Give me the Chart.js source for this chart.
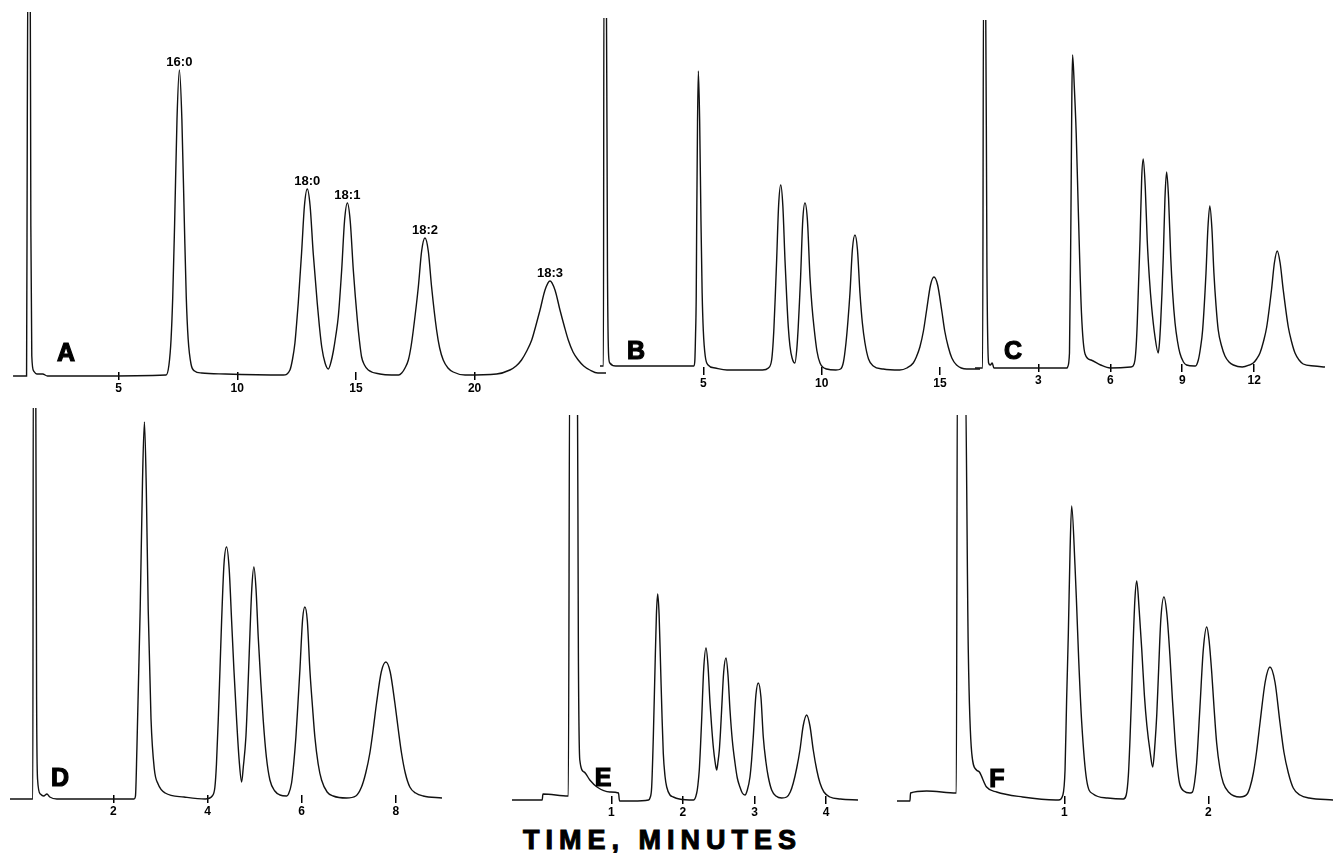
<!DOCTYPE html>
<html>
<head>
<meta charset="utf-8">
<title>Chromatograms A–F</title>
<script src="https://cdn.jsdelivr.net/npm/chart.js@4.4.0/dist/chart.umd.min.js"></script>
<style>
    html, body { margin: 0; padding: 0; background: #fff; }
    #figure { position: relative; width: 1333px; height: 853px; overflow: hidden; background: #fff; }
    #figure canvas { position: absolute; }
    .panel-letter {
        position: absolute;
        font-family: 'Liberation Sans', Arial, sans-serif;
        font-weight: 700;
        font-size: 25px;
        line-height: 1;
        color: #000;
        -webkit-text-stroke: 1.2px #000;
        transform: translate(-50%, -50%);
    }
    .axis-title {
        position: absolute;
        left: 523px;
        top: 827px;
        font-family: 'Liberation Sans', Arial, sans-serif;
        font-weight: 700;
        font-size: 27px;
        line-height: 1;
        letter-spacing: 6px;
        white-space: nowrap;
        color: #000;
        -webkit-text-stroke: 1px #000;
    }
</style>
</head>
<body>
<div id="figure">
    <div class="axis-title">TIME, MINUTES</div>
</div>

<script>
const timesA = [
    0.55, 1.12, 1.15, 1.18, 1.27, 1.30, 1.34, 1.42, 1.55, 1.8, 2.0, 4.0,
    7.0, 7.12, 7.21, 7.28, 7.36, 7.46, 7.56, 7.665, 7.77, 7.85, 7.93, 8.05, 8.2, 8.5, 9.5,
    11.94, 12.22, 12.33, 12.43, 12.5, 12.57, 12.71, 12.83, 12.95, 13.07, 13.2, 13.37, 13.46, 13.56, 13.7, 13.84,
    13.95, 14.05, 14.15, 14.26, 14.4, 14.52, 14.64, 14.76, 14.89, 15.06, 15.15, 15.24, 15.36, 15.52, 16.01, 16.5,
    16.8, 16.93, 17.07, 17.21, 17.32, 17.42, 17.63, 17.77, 17.91, 18.05, 18.19, 18.4, 18.53, 18.68, 18.88, 19.1, 19.6,
    20.93, 21.49, 21.75, 21.98, 22.2, 22.41, 22.58, 22.76, 22.97, 23.18, 23.39, 23.6, 23.78, 23.95, 24.15, 24.37, 24.6, 24.86, 25.2, 25.54
];
const signalA = [
    0, 0, 250, 420, 420, 150, 20, 5, 2, 2, 0, 0,
    1, 11, 37, 79, 153, 257, 306, 257, 153, 79, 37, 12, 5, 3, 2,
    1, 6, 17, 33, 52, 73, 123, 170, 187, 170, 123, 73, 50, 29, 13, 7,
    14, 25, 40, 60, 106, 155, 173, 155, 106, 56, 35, 19, 11, 6, 2, 1,
    1, 3, 8, 16, 29, 46, 89, 125, 138, 125, 89, 46, 28, 16, 8, 4, 1,
    2, 6, 10, 16, 25, 36, 50, 66, 86, 95, 86, 66, 50, 36, 24, 16, 10, 6, 3, 3
];
const ticksA = [5, 10, 15, 20];
const peakNamesA = ['16:0', '18:0', '18:1', '18:2', '18:3'];
const peakTimesA = [7.56, 12.95, 14.64, 17.91, 23.18];
const peakHeightsA = [306, 187, 173, 138, 95];

const timesB = [
    0.63, 0.78, 0.80, 0.90, 0.95, 1.0, 1.05, 1.3, 4.6,
    4.64, 4.67, 4.70, 4.72, 4.755, 4.79, 4.845, 4.9, 4.95, 5.0, 5.08, 5.2, 5.5, 6.0, 7.5,
    7.75, 7.886, 7.94, 7.985, 8.04, 8.098, 8.18, 8.27, 8.36, 8.45, 8.52, 8.59, 8.66, 8.75, 8.87,
    8.95, 9.01, 9.06, 9.11, 9.2, 9.294, 9.4, 9.506, 9.59, 9.675, 9.8, 9.93, 10.21, 10.6,
    10.8, 10.92, 11.027, 11.11, 11.196, 11.3, 11.407, 11.51, 11.618, 11.72, 11.83, 11.98, 12.18, 12.6, 13.3,
    13.6, 13.87, 14.0, 14.15, 14.3, 14.435, 14.6, 14.745, 14.9, 15.07, 15.2, 15.35, 15.5, 15.7, 16.13, 16.69
];
const signalB = [
    5, 5, 400, 400, 100, 15, 8, 5, 5,
    10, 35, 75, 150, 250, 300, 250, 150, 78, 40, 15, 6, 3, 1, 1,
    3, 11, 25, 44, 75, 111, 165, 186, 165, 111, 75, 44, 25, 13, 8,
    22, 44, 68, 94, 150, 168, 150, 94, 65, 44, 20, 8, 2, 1,
    2, 9, 28, 50, 78, 122, 136, 122, 78, 48, 28, 12, 5, 2, 1,
    3, 8, 14, 24, 40, 61, 86, 94, 86, 61, 40, 24, 13, 6, 2, 2
];
const ticksB = [5, 10, 15];

const timesC = [
    0.36, 0.68, 0.72, 0.80, 0.86, 0.93, 1.0, 1.08, 1.15, 4.2,
    4.22, 4.3, 4.36, 4.4, 4.43, 4.5, 4.58, 4.67, 4.8, 4.95, 5.2, 5.6, 6.0, 6.85,
    6.95, 7.03, 7.08, 7.125, 7.18, 7.24, 7.31, 7.375, 7.46, 7.54, 7.63, 7.725, 7.86, 8.0,
    8.05, 8.10, 8.155, 8.21, 8.28, 8.35, 8.43, 8.52, 8.6, 8.70, 8.8, 8.9, 9.05, 9.18, 9.5,
    9.55, 9.67, 9.76, 9.85, 9.99, 10.07, 10.15, 10.235, 10.32, 10.41, 10.5, 10.64, 10.78, 10.95, 11.13, 11.5,
    11.8, 11.96, 12.1, 12.24, 12.38, 12.52, 12.72, 12.84, 12.96, 13.08, 13.21, 13.42, 13.56, 13.7, 13.87, 14.04, 14.5, 14.95
];
const signalC = [
    0, 0, 400, 400, 100, 5, 3, 5, 0, 0,
    1, 15, 150, 275, 313, 282, 235, 156, 55, 14, 8, 3, 0, 1,
    2, 8, 22, 45, 85, 128, 190, 209, 180, 128, 90, 61, 32, 15,
    25, 45, 75, 111, 170, 196, 170, 111, 75, 45, 27, 15, 6, 3, 2,
    2, 8, 20, 38, 95, 140, 162, 140, 95, 62, 38, 22, 12, 6, 3, 1,
    3, 5, 9, 15, 26, 41, 78, 105, 117, 105, 78, 41, 26, 15, 8, 4, 2, 1
];
const ticksC = [3, 6, 9, 12];

const timesD = [
    -0.2, 0.29, 0.30, 0.35, 0.37, 0.39, 0.45, 0.52, 0.59, 0.65, 0.8, 2.44,
    2.47, 2.5, 2.57, 2.62, 2.66, 2.7, 2.74, 2.8, 2.87, 2.95, 3.1, 3.5, 3.95,
    4.1, 4.157, 4.19, 4.228, 4.265, 4.30, 4.35, 4.405, 4.46, 4.511, 4.56, 4.618, 4.67, 4.724,
    4.76, 4.815, 4.85, 4.886, 4.94, 4.985, 5.03, 5.077, 5.13, 5.183, 5.25, 5.325, 5.43, 5.537, 5.68,
    5.72, 5.785, 5.83, 5.877, 5.92, 5.962, 6.02, 6.068, 6.12, 6.174, 6.23, 6.28, 6.35, 6.422, 6.54, 6.669, 6.95,
    7.15, 7.27, 7.36, 7.448, 7.52, 7.59, 7.69, 7.788, 7.88, 7.979, 8.05, 8.12, 8.2, 8.297, 8.42, 8.58, 8.98
];
const signalD = [
    0, 0, 450, 450, 100, 20, 5, 3, 5, 2, 0, 0,
    3, 50, 190, 320, 377, 310, 190, 80, 30, 15, 6, 2, 0,
    3, 12, 35, 79, 130, 179, 235, 252, 230, 179, 130, 79, 40, 17,
    32, 62, 100, 146, 210, 232, 210, 162, 118, 79, 42, 19, 8, 4, 3,
    5, 16, 35, 62, 95, 129, 180, 192, 178, 129, 92, 62, 35, 19, 7, 3, 1,
    3, 12, 26, 46, 70, 96, 127, 137, 127, 96, 70, 46, 26, 12, 6, 3, 1
];
const ticksD = [2, 4, 6, 8];

const timesE = [
    -0.39, 0.035, 0.045, 0.40, 0.42, 0.525, 0.54, 0.56, 0.62, 0.7, 0.8, 0.98, 1.10, 1.115, 1.3,
    1.52, 1.54, 1.564, 1.587, 1.61, 1.63, 1.648, 1.668, 1.69, 1.708, 1.726, 1.75, 1.774, 1.82, 1.866, 1.95, 2.15,
    2.193, 2.21, 2.229, 2.245, 2.262, 2.29, 2.323, 2.35, 2.379, 2.4, 2.425, 2.45, 2.472,
    2.49, 2.509, 2.525, 2.541, 2.57, 2.602, 2.63, 2.658, 2.69, 2.728, 2.76, 2.797, 2.83, 2.867,
    2.9, 2.937, 2.96, 2.983, 3.02, 3.053, 3.09, 3.123, 3.16, 3.193, 3.24, 3.3, 3.38,
    3.45, 3.5, 3.542, 3.59, 3.635, 3.68, 3.729, 3.775, 3.821, 3.87, 3.915, 3.97, 4.054, 4.2, 4.45
];
const signalE = [
    0, 0, 6, 4, 450, 450, 150, 40, 28, 20, 13, 8, 7, -1, -1,
    0, 2, 13, 63, 130, 185, 206, 185, 130, 85, 47, 24, 13, 5, 3, 1, 0,
    7, 15, 30, 52, 80, 130, 152, 135, 97, 75, 53, 38, 30,
    38, 50, 68, 90, 128, 142, 125, 90, 60, 37, 22, 13, 7, 5,
    10, 23, 40, 63, 105, 117, 103, 63, 38, 23, 10, 4, 2,
    3, 8, 17, 32, 50, 74, 85, 74, 50, 30, 17, 8, 3, 1, 0
];
const ticksE = [1, 2, 3, 4];

const timesF = [
    -0.17, -0.072, -0.068, 0.044, 0.25, 0.258, 0.31, 0.333, 0.357, 0.39, 0.41, 0.46, 0.53, 0.71, 0.94,
    0.96, 0.99, 1.005, 1.016, 1.028, 1.04, 1.051, 1.074, 1.086, 1.1, 1.121, 1.155, 1.2, 1.3, 1.41,
    1.43, 1.445, 1.456, 1.466, 1.475, 1.49, 1.503, 1.52, 1.538, 1.556, 1.573, 1.596, 1.614,
    1.63, 1.642, 1.653, 1.67, 1.692, 1.713, 1.734, 1.751, 1.769, 1.785, 1.80, 1.83, 1.873,
    1.89, 1.905, 1.919, 1.942, 1.965, 1.989, 2.005, 2.024, 2.04, 2.058, 2.08, 2.104, 2.14, 2.22,
    2.27, 2.29, 2.313, 2.335, 2.359, 2.395, 2.428, 2.463, 2.498, 2.525, 2.556, 2.59, 2.637, 2.7, 2.87
];
const signalF = [
    -1, -1, 7, 9, 7, 450, 450, 150, 47, 30, 28, 13, 8, 3, 0,
    0, 5, 30, 100, 167, 250, 294, 235, 193, 140, 77, 20, 6, 2, 1,
    5, 25, 60, 100, 143, 200, 219, 190, 150, 105, 75, 48, 33,
    57, 85, 123, 180, 203, 185, 143, 100, 60, 33, 17, 9, 7,
    8, 18, 37, 93, 150, 173, 160, 127, 92, 57, 32, 17, 8, 3,
    6, 13, 27, 48, 77, 118, 133, 118, 77, 48, 27, 12, 5, 2, 0
];
const ticksF = [1, 2];

// Геометрия панелей (пиксели страницы)
const AXIS_HEIGHT = 24;  // высота оси X под графиком
const LIFT = 4;          // метки делений немного заходят выше нулевой линии
const TICK_FONT = "'Liberation Sans', Arial, sans-serif";
const PEAK_FONT = "'Liberation Sans Narrow', 'Liberation Sans', Arial, sans-serif";

const panels = [
    { letter: 'A', times: timesA, signal: signalA, ticks: ticksA, left: 0,   top: 12,  width: 606, baseline: 376, xMin: 0,      xMax: 25.54, letterPos: [66, 352], peaks: true },
    { letter: 'B', times: timesB, signal: signalB, ticks: ticksB, left: 600, top: 18,  width: 380, baseline: 371, xMin: 0.634,  xMax: 16.69, letterPos: [636, 350] },
    { letter: 'C', times: timesC, signal: signalC, ticks: ticksC, left: 975, top: 20,  width: 350, baseline: 368, xMin: 0.3625, xMax: 14.95, letterPos: [1013, 350] },
    { letter: 'D', times: timesD, signal: signalD, ticks: ticksD, left: 10,  top: 408, width: 432, baseline: 799, xMin: -0.195, xMax: 8.98,  letterPos: [60, 777] },
    { letter: 'E', times: timesE, signal: signalE, ticks: ticksE, left: 512, top: 415, width: 346, baseline: 800, xMin: -0.387, xMax: 4.446, letterPos: [603, 777] },
    { letter: 'F', times: timesF, signal: signalF, ticks: ticksF, left: 897, top: 415, width: 436, baseline: 800, xMin: -0.162, xMax: 2.866, letterPos: [997, 778] }
];

// Подписи пиков на хроматограмме A
const peakLabelPlugin = {
    id: 'peakLabels',
    afterDatasetsDraw(chart) {
        const { ctx, scales: { x, y } } = chart;
        ctx.save();
        ctx.font = `bold 13px ${PEAK_FONT}`;
        ctx.fillStyle = '#000';
        ctx.textAlign = 'center';
        ctx.textBaseline = 'alphabetic';
        peakNamesA.forEach((name, i) => {
            ctx.fillText(name, x.getPixelForValue(peakTimesA[i]), y.getPixelForValue(peakHeightsA[i]) - 4);
        });
        ctx.restore();
    }
};

function buildPanel(p) {
    const figure = document.getElementById('figure');
    const plotHeight = p.baseline - LIFT - p.top;

    const canvas = document.createElement('canvas');
    canvas.width = p.width;
    canvas.height = plotHeight + AXIS_HEIGHT;
    canvas.style.left = p.left + 'px';
    canvas.style.top = p.top + 'px';
    figure.appendChild(canvas);

    const letter = document.createElement('div');
    letter.className = 'panel-letter';
    letter.textContent = p.letter;
    letter.style.left = p.letterPos[0] + 'px';
    letter.style.top = p.letterPos[1] + 'px';
    figure.appendChild(letter);

    const points = p.times.map((t, i) => ({ x: t, y: p.signal[i] }));

    new Chart(canvas, {
        type: 'line',
        data: {
            datasets: [{
                data: points,
                borderColor: '#111',
                borderWidth: 1.4,
                pointRadius: 0,
                fill: false,
                cubicInterpolationMode: 'monotone',
                clip: { left: 0, top: 0, right: 0, bottom: 12 }
            }]
        },
        options: {
            responsive: false,
            animation: false,
            devicePixelRatio: 1,
            layout: { padding: 0 },
            plugins: {
                legend: { display: false },
                tooltip: { enabled: false }
            },
            scales: {
                x: {
                    type: 'linear',
                    min: p.xMin,
                    max: p.xMax,
                    border: { display: false },
                    grid: {
                        display: true,
                        drawOnChartArea: false,
                        drawTicks: true,
                        tickLength: 8,
                        color: '#000',
                        lineWidth: 1.5
                    },
                    ticks: {
                        color: '#000',
                        padding: 1,
                        autoSkip: false,
                        maxRotation: 0,
                        font: { family: TICK_FONT, size: 12, weight: 'bold' }
                    },
                    afterBuildTicks: scale => {
                        scale.ticks = p.ticks.map(v => ({ value: v }));
                    },
                    afterFit: scale => {
                        scale.height = AXIS_HEIGHT;
                    }
                },
                y: {
                    display: false,
                    min: LIFT,
                    max: p.baseline - p.top
                }
            }
        },
        plugins: p.peaks ? [peakLabelPlugin] : []
    });
}

panels.forEach(buildPanel);
</script>
</body>
</html>
